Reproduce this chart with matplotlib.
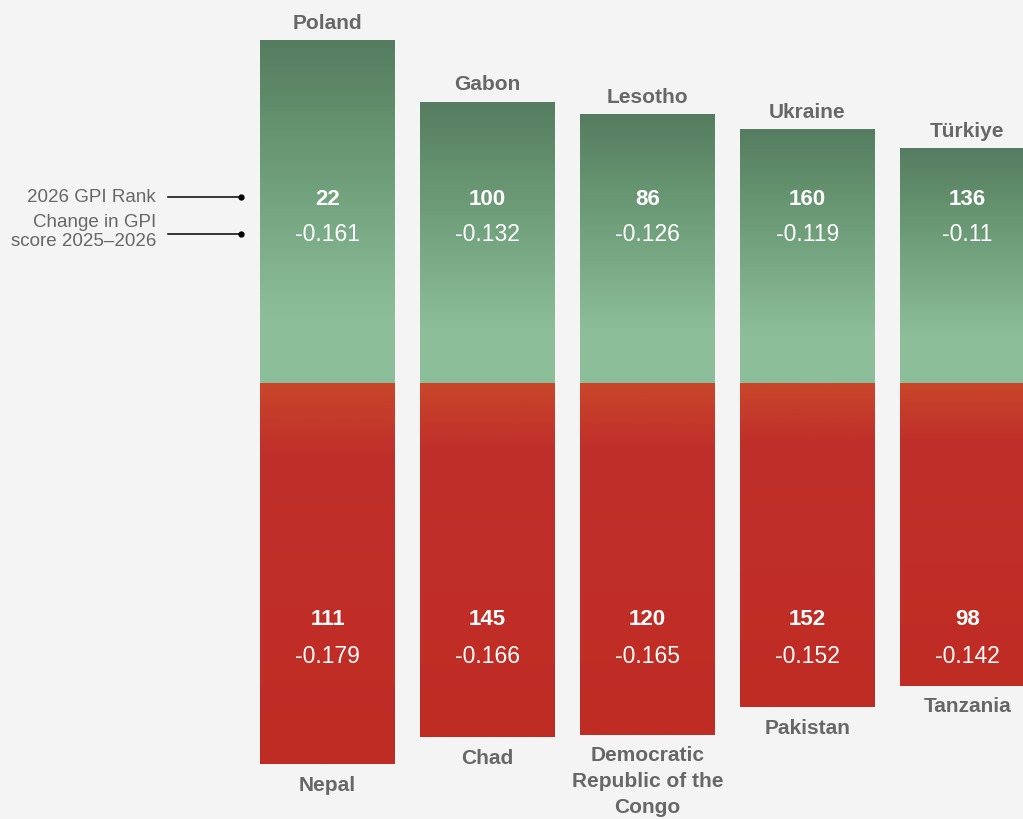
import numpy as np
import matplotlib
matplotlib.use("Agg")
import matplotlib.pyplot as plt
from matplotlib.colors import LinearSegmentedColormap

plt.rcParams['font.family'] = ['Liberation Sans', 'DejaVu Sans']

# ---- data ----
improvers = ["Poland", "Gabon", "Lesotho", "Ukraine", "Türkiye"]
improver_rank = [22, 100, 86, 160, 136]
improver_change = [-0.161, -0.132, -0.126, -0.119, -0.11]
deteriorators = ["Nepal", "Chad", "Democratic\nRepublic of the\nCongo", "Pakistan", "Tanzania"]
deteriorator_rank = [111, 145, 120, 152, 98]
deteriorator_change = [-0.179, -0.166, -0.165, -0.152, -0.142]

BG = "#f3f4f3"
TXT = "#676767"

fig = plt.figure(figsize=(10.23, 8.19), dpi=100, facecolor=BG)
ax = fig.add_axes([0, 0, 1, 1])
ax.set_facecolor(BG)

scale = 2128.0  # px per unit
base = 383.5
ax.set_ylim(-(819 - base) / scale, base / scale)
spacing = 160.0
x0 = 327.5
ax.set_xlim((0 - x0) / spacing, (1023 - x0) / spacing)
ax.axis('off')

width = 135 / spacing
green_cmap = LinearSegmentedColormap.from_list(
    "g", [(0, "#557c60"), (0.25, "#65926f"), (0.8, "#8bbe98"), (1, "#8bbe98")])
red_cmap = LinearSegmentedColormap.from_list(
    "r", [(0, "#c9462a"), (0.18, "#c0302a"), (1, "#bf2c24")])

grad = np.linspace(0, 1, 256).reshape(-1, 1)

def py(p):
    return (base - p) / scale

for i in range(len(improvers)):
    h = abs(improver_change[i])
    ax.imshow(grad, cmap=green_cmap, aspect='auto',
              extent=[i - width / 2, i + width / 2, 0, h], origin='upper', zorder=2)
    d = abs(deteriorator_change[i])
    ax.imshow(grad, cmap=red_cmap, aspect='auto',
              extent=[i - width / 2, i + width / 2, -d, 0], origin='upper', zorder=2)

    # country labels
    ax.annotate(improvers[i], (i, h), xytext=(0, 6), textcoords='offset points',
                ha='center', va='bottom', fontsize=15, fontweight='bold', color=TXT)
    ax.annotate(deteriorators[i], (i, -d), xytext=(0, -8.5), textcoords='offset points',
                ha='center', va='top', fontsize=15, fontweight='bold', color=TXT,
                linespacing=1.45)

    # values inside bars
    ax.text(i, py(197), str(improver_rank[i]), ha='center', va='center_baseline',
            fontsize=16, fontweight='bold', color='white', zorder=3)
    ax.text(i, py(232), f"{improver_change[i]:g}", ha='center', va='center_baseline',
            fontsize=16.5, color='white', zorder=3)
    ax.text(i, py(617), str(deteriorator_rank[i]), ha='center', va='center_baseline',
            fontsize=16, fontweight='bold', color='white', zorder=3)
    ax.text(i, py(654), f"{deteriorator_change[i]:g}", ha='center', va='center_baseline',
            fontsize=16.5, color='white', zorder=3)

# left legend annotation
xl_text = (156 - x0) / spacing
xl0 = (168 - x0) / spacing
xl1 = (241 - x0) / spacing
ax.text(xl_text, py(196), "2026 GPI Rank", ha='right', va='center_baseline',
        fontsize=13.5, color=TXT)
ax.text(xl_text, py(232), "Change in GPI\nscore 2025–2026", ha='right',
        va='center', fontsize=13.5, color=TXT, linespacing=1.1)
for yy in (py(197), py(234)):
    ax.plot([xl0, xl1], [yy, yy], color='black', lw=1.1)
    ax.plot([xl1], [yy], 'o', color='black', ms=3.5)

fig.savefig("out.png", dpi=100, facecolor=BG)
